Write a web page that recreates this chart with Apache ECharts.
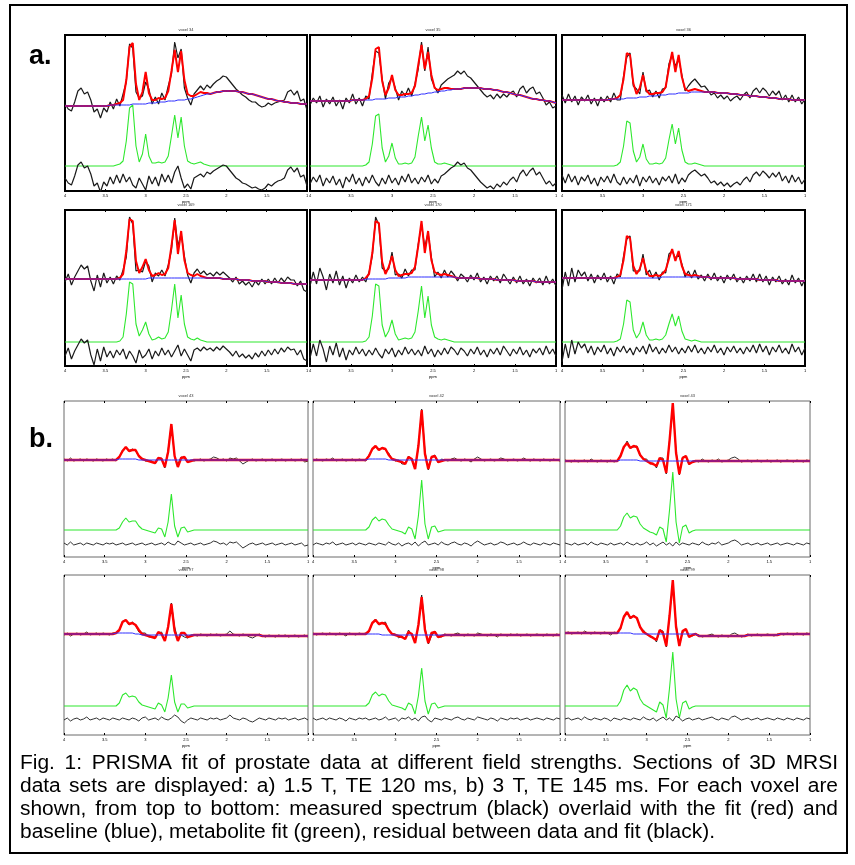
<!DOCTYPE html>
<html><head><meta charset="utf-8">
<script src="https://cdn.jsdelivr.net/npm/echarts@6/dist/echarts.min.js"></script>
<style>html,body{margin:0;padding:0;background:#fff}#c{width:855px;height:865px}</style>
</head><body><div id="c"></div><script>
// ---------- x grid (ppm) and tick labels ----------
const ppmStart = 4.0, ppmStep = 0.04, nPts = 76;
const ppm = []; for (let i = 0; i < nPts; i++) ppm.push(+(ppmStart - ppmStep * i).toFixed(2));
const ppmTickValues = [1, 1.5, 2, 2.5, 3, 3.5, 4];
const ppmTickLabels = ['1', '1.5', '2', '2.5', '3', '3.5', '4'];
const voxelTitles = ['voxel 34','voxel 35','voxel 36','voxel 169','voxel 170','voxel 171','voxel 43','voxel 42','voxel 43','voxel 97','voxel 98','voxel 99'];
const sectionLabels = ['a.', 'b.'];
const captionLines = [
 'Fig. 1: PRISMA fit of prostate data at different field strengths. Sections of 3D MRSI',
 'data sets are displayed: a) 1.5 T, TE 120 ms, b) 3 T, TE 145 ms. For each voxel are',
 'shown, from top to bottom: measured spectrum (black) overlaid with the fit (red) and',
 'baseline (blue), metabolite fit (green), residual between data and fit (black).'
];
// levels of metabolite trace and residual trace in each panel
const greenLevel = [25,25,25,24,24,24,27,27,27,29,29,29];
const residLevel = [11,11,11,13,14,16,13,13,13,16,16,16];

// ---------- section a (1.5 T) ----------
const base_a1 = [85,85,85,85,85,85,85,85,85,85,85, 85,85,85,86,86,86,86,86,86,86, 87,87,87,87,87,88,88,88,89,89, 89,90,90,90,91,91,91,92,92,93, 94,95,96,97,97,98,99,99,100,100, 100,100,100,99,99,98,97,97,96,95, 94,93,92,92,91,90,90,89,89,88, 88,88,87,87,87];
const met_a1 = [0,0,0,0,0,0,0,0,0,0,0,0,0,0,0,0, 1,2,5,25,58,61,20,4,12,32, 10,3,3,4,3,4,10,30,51,28, 49,20,5,3,2,3,4,2,1, 0,0,0,0,0,0,0,0,0,0,0,0,0,0,0,0,0,0,0,0,0,0,0,0,0,0,0,0,0,0,0];
const res_a1 = [2,-3,-5,4,15,18,12,14,6,-6, -3,-12,-2,-6,3,-4,5,-3,6,-2, 3,-5,-8,2,-4,-10,4,-4,3,-6, 6,-2,5,-3,8,14,2,-8,-4,-9, 2,4,6,3,8,6,9,11,13,15, 14,10,6,2,0,-3,-4,-6,-8,-7, -9,-10,-8,-4,-6,-3,-1,0,2,10, 13,8,12,3,5,-6];

const base_a2 = [90,90,90,90,90,90,90,90,90,90,90, 90,90,91,91,91,91,91,91,91,92, 92,92,92,93,93,93,94,94,94,95, 95,96,96,97,97,98,98,99,99,100, 100,101,101,102,102,102,103,103,103,103, 103,103,102,102,102,101,101,100,99,99, 98,97,96,96,95,94,93,92,92,91, 91,90,90,89,88];
const met_a2 = [0,0,0,0,0,0,0,0,0,0,0,0,0,0,0,0,0, 1,4,22,50,52,18,4,10,23,8, 2,2,3,2,3,9,30,49,25,41, 18,4,2,2,3,2,1, 0,0,0,0,0,0,0,0,0,0,0,0,0,0,0,0,0,0,0,0,0,0,0,0,0,0,0,0,0,0,0,0];
const res_a2 = [-4,3,-2,5,-6,2,-3,4,-5,1, -8,3,-2,6,-4,2,-6,3,-3,5, -2,-6,2,-4,5,-3,2,-5,4,-2, 6,-3,2,-4,3,-2,5,-4,1,-3, 4,6,9,12,14,18,15,17,12,10, 6,2,-2,-5,-8,-6,-9,-4,-7,-2, -5,0,3,-2,6,10,4,9,12,5, 8,2,-4,-1,-6,-3];

const base_a3 = [91,91,91,91,91,91,91,91,91,91,91, 91,91,91,91,92,92,92,92,92,93, 93,93,93,94,94,94,95,95,95,96, 96,96,97,97,97,98,98,98,98,99, 99,99,99,99,99,99,99,98,98,98, 98,97,97,97,96,96,96,95,95,95, 94,94,94,93,93,93,92,92,92,92, 91,91,91,91,91];
const met_a3 = [0,0,0,0,0,0,0,0,0,0,0,0,0,0,0,0,0, 1,4,20,45,43,15,4,9,22,7, 2,2,3,2,3,8,26,42,22,38, 16,4,2,2,3,2,1, 0,0,0,0,0,0,0,0,0,0,0,0,0,0,0,0,0,0,0,0,0,0,0,0,0,0,0,0,0,0,0,0];
const res_a3 = [5,-3,6,-2,4,-5,3,-1,5,-4, 2,-6,3,-2,4,-3,6,-2,-5,3, -4,2,-3,5,-6,3,-2,4,-3,2, -5,3,-1,4,-3,6,-4,2,-2,5, 8,10,7,4,6,2,-3,-1,-5,-2, -6,-3,-7,-4,-2,-5,0,3,-2,5, 8,4,9,6,2,7,3,8,-1,4, -3,5,-2,3,-4,1];

const base_a4 = [87,87,87,87,87,87,87,87,87,87,87, 87,87,87,87,87,87,87,87,87,87, 87,87,87,87,87,88,88,88,88,88, 88,88,88,88,88,88,88,88,88,88, 88,88,88,88,88,88,88,88,87,87, 87,87,87,86,86,86,86,85,85,85, 85,85,84,84,84,84,83,83,83,83, 82,82,82,82,82];
const met_a4 = [0,0,0,0,0,0,0,0,0,0,0,0,0,0,0,0,0, 1,5,28,60,58,18,6,12,20,8, 2,3,5,3,4,10,32,58,24,47, 18,5,3,2,4,2,1, 0,0,0,0,0,0,0,0,0,0,0,0,0,0,0,0,0,0,0,0,0,0,0,0,0,0,0,0,0,0,0,0];
const res_a4 = [-3,5,-6,2,8,14,10,13,-2,-12, 4,-8,6,-4,2,-5,3,-2,4,-6, 2,-3,-10,3,-5,-2,4,-6,2,-3, 5,-2,3,-4,2,8,-3,4,-2,-8, 3,5,2,6,3,5,2,6,3,7, 4,1,-3,2,-4,-1,-5,-2,-6,0, -4,2,-3,3,-2,4,-1,5,1,6, 3,4,-2,3,-6,-8];

const base_a5 = [86,86,86,86,86,86,86,86,86,86,86, 86,86,86,86,86,86,87,87,87,87, 87,87,87,88,88,88,88,88,88,89, 89,89,89,89,89,89,89,89,89,89, 89,89,89,89,88,88,88,88,88,88, 88,87,87,87,87,87,86,86,86,86, 86,86,85,85,85,85,85,85,84,84, 84,84,84,84,84];
const met_a5 = [0,0,0,0,0,0,0,0,0,0,0,0,0,0,0,0,0, 1,5,26,58,56,17,5,11,22,8, 2,3,4,3,4,10,31,56,24,46, 17,5,3,2,3,2,1, 0,0,0,0,0,0,0,0,0,0,0,0,0,0,0,0,0,0,0,0,0,0,0,0,0,0,0,0,0,0,0,0];
const res_a5 = [-6,8,-4,12,3,-10,6,-3,9,-5, 4,-8,2,-3,5,-2,3,-4,2,-3, 4,-2,-6,3,-2,4,-5,2,-3,5, -2,3,-3,2,-4,6,-2,3,-5,2, -3,4,-2,5,2,-3,4,1,-4,3, -2,5,-3,2,-5,3,-2,4,-3,6, 1,-4,3,-2,5,-3,2,-5,3,-1, 4,-3,6,-2,3,-4];

const base_a6 = [88,88,88,88,88,88,88,88,88,88, 88,88,88,88,88,88,88,88,88,88, 88,88,88,88,88,88,88,88,88,88,88, 89,89,89,89,89,89,89,89,89,89, 89,89,89,89,89,88,88,88,88,88, 88,88,88,87,87,87,87,87,87,87, 86,86,86,86,86,86,85,85,85,85, 85,85,85,85,85];
const met_a6 = [0,0,0,0,0,0,0,0,0,0,0,0,0,0,0,0,0, 1,3,18,42,40,12,4,9,20,7, 2,2,3,2,3,7,18,28,16,26, 11,3,2,1,2,1,0, 0,0,0,0,0,0,0,0,0,0,0,0,0,0,0,0,0,0,0,0,0,0,0,0,0,0,0,0,0,0,0,0];
const res_a6 = [-12,6,-8,10,-4,8,2,6,-3,4, -5,3,-2,5,-4,2,-6,3,-2,4, -3,2,-5,3,-2,4,-4,6,-2,3, -4,2,-3,5,-2,3,-4,2,-3,4, -2,5,-3,2,-4,3,-2,5,-3,2, -5,3,-2,4,-3,2,-4,3,-2,5, -3,6,-2,4,-5,3,-2,5,-3,2, -4,6,-2,3,-5,2];

// ---------- section b (3 T) ----------
const base_b1 = [97,97,97,97,97,97,97,97,97,97, 97,97,97,97,97,97,97,98,98,98, 98,98,98,97,97,97,97,97,97,97, 97,97,97,97,97,97,97,97,97,97, 97,97,97,97,97,97,97,97,97,97, 97,97,97,97,97,97,97,97,97,97, 97,97,97,97,97,97,97,97,97,97, 97,97,97,97,97,97];
const met_b1 = [0,0,0,0,0,0,0,0,0,0,0,0,0,0,0,0,0, 2,8,12,8,9,9,4,1,0,-1, -2,-3,2,1,-7,8,36,4,-7,2, 3,-2,-1,0, 0,0,0,0,0,0,0,0,0,0,0,0,0,0,0,0,0,0,0,0,0,0,0,0,0,0,0,0,0,0,0,0,0,0,0];
const res_b1 = [1,-1,2,-1,0,1,-1,1,0,-1, 1,0,-1,1,0,1,-1,0,1,-1, 0,1,-1,0,1,-1,0,1,-1,0, 1,-1,2,0,-1,3,1,-1,0,1, -1,0,1,-1,0,1,3,2,0,1, -1,2,1,2,-1,-4,-2,0,1,-1, 0,1,-1,0,1,-1,0,1,-1,0, 1,-1,0,1,-2,-1];

const base_b2 = [97,97,97,97,97,97,97,97,97,97, 97,97,97,97,97,97,97,98,98,98, 98,98,98,97,97,97,97,97,97,97, 97,97,97,97,97,97,97,97,97,97, 97,97,97,97,97,97,97,97,97,97, 97,97,97,97,97,97,97,97,97,97, 97,97,97,97,97,97,97,97,97,97, 97,97,97,97,97,97];
const met_b2 = [0,0,0,0,0,0,0,0,0,0,0,0,0,0,0,0,0, 3,10,13,9,11,10,5,1,0,-1, -2,-4,3,1,-9,14,50,6,-9,3, 4,-2,-1,0, 0,0,0,0,0,0,0,0,0,0,0,0,0,0,0,0,0,0,0,0,0,0,0,0,0,0,0,0,0,0,0,0,0,0,0];
const res_b2 = [-1,1,0,-1,1,0,2,-1,0,1, -1,0,1,-1,1,0,-1,1,0,-1, 1,0,-1,2,0,-1,1,-2,0,1, -1,2,-2,1,3,-1,0,1,-1,2, 0,-1,1,2,0,-1,1,0,-2,1, 3,1,-1,0,1,-1,0,2,1,-1, 0,1,-1,0,2,0,-1,1,0,-1, 1,0,-1,1,0,-1];

const base_b3 = [96,96,96,96,96,96,96,96,96,96, 96,96,96,96,96,96,96,97,97,97, 97,97,97,96,96,96,96,96,96,96, 96,96,96,96,96,96,96,96,96,96, 96,96,96,96,96,96,96,96,96,96, 96,96,96,96,96,96,96,96,96,96, 96,96,96,96,96,96,96,96,96,96, 96,96,96,96,96,96];
const met_b3 = [0,0,0,0,0,0,0,0,0,0,0,0,0,0,0,0,0, 4,13,17,12,14,13,6,2,0,-2, -3,-5,3,1,-12,20,58,8,-13,3, 5,-3,-1,0, 0,0,0,0,0,0,0,0,0,0,0,0,0,0,0,0,0,0,0,0,0,0,0,0,0,0,0,0,0,0,0,0,0,0,0];
const res_b3 = [1,0,-1,1,-1,0,1,-1,2,0, -1,1,0,-1,1,-1,0,1,-1,2, 0,-1,1,-1,0,2,-1,1,-2,0, 2,-1,1,-2,2,-1,1,0,-1,1, 0,-1,2,0,-1,1,0,2,-1,0, 1,3,4,2,-1,0,1,-1,0,1, -1,0,1,-1,0,1,-1,0,1,0, -1,1,0,-1,1,0];

const base_b4 = [101,101,101,101,101,101,101,101,101,101,101, 101,101,101,101,101,102,102,102,102,102, 102,101,101,100,100,100,100,100,100,100, 100,100,100,100,100,100,100,100,100,100, 100,100,100,100,100,100,100,100,100,100, 100,100,100,100,100,100,100,100,100,100, 99,99,99,99,99,99,99,99,99,99, 99,99,99,99,99];
const met_b4 = [0,0,0,0,0,0,0,0,0,0,0,0,0,0,0,0,0, 3,11,13,9,10,9,4,1,0,-1, -2,-3,3,1,-6,8,31,4,-6,2, 2,-2,-1,0, 0,0,0,0,0,0,0,0,0,0,0,0,0,0,0,0,0,0,0,0,0,0,0,0,0,0,0,0,0,0,0,0,0,0,0];
const res_b4 = [-1,1,-2,0,1,-1,0,2,-1,0, 1,-1,1,0,-1,1,0,-1,1,0, -1,1,0,-2,1,2,-1,0,1,-1, 2,0,-1,1,4,2,-2,-4,-1,1, 0,-1,1,0,-1,1,0,1,-1,0, 1,4,1,0,-1,1,0,-2,-3,-1, 1,0,-1,1,0,-1,1,0,1,-1, 0,1,-1,0,1,-1];

const base_b5 = [101,101,101,101,101,101,101,101,101,101,101, 101,101,101,101,101,101,101,101,101,101, 100,100,100,100,100,100,100,100,100,100, 100,100,100,100,100,100,100,100,100,100, 100,100,100,100,100,100,100,100,100,100, 100,100,100,100,100,100,100,100,100,100, 100,100,100,100,100,100,100,100,100,100, 100,100,100,100,100];
const met_b5 = [0,0,0,0,0,0,0,0,0,0,0,0,0,0,0,0,0, 3,11,14,10,12,11,5,1,0,-1, -2,-4,3,1,-8,10,38,5,-8,2, 3,-2,-1,0, 0,0,0,0,0,0,0,0,0,0,0,0,0,0,0,0,0,0,0,0,0,0,0,0,0,0,0,0,0,0,0,0,0,0,0];
const res_b5 = [1,-1,0,1,-1,1,0,-1,1,0, -2,1,0,-1,1,0,1,-1,0,1, -1,0,2,-1,0,1,-2,1,0,2, -1,1,-2,2,3,-1,-3,1,0,-1, 1,0,-1,1,2,0,-1,1,0,-1, 2,1,0,-1,1,0,-2,1,0,-1, 1,0,1,-1,0,1,-1,0,1,0, -1,1,0,-1,1,0];

const base_b6 = [102,102,102,102,102,102,102,102,102,102,102, 102,102,102,102,102,102,102,102,102,102, 101,101,101,101,101,101,101,101,101,101, 101,101,101,101,101,101,101,101,101,101, 99,99,99,99,99,99,99,99,99,99, 99,99,99,99,99,100,100,100,100,100, 100,100,100,100,100,101,101,101,101,101, 101,101,101,101,101];
const met_b6 = [0,0,0,0,0,0,0,0,0,0,0,0,0,0,0,0,0, 5,16,21,15,18,16,7,2,0,-2, -4,-6,4,1,-12,18,54,7,-12,3, 5,-3,-1,0, 0,0,0,0,0,0,0,0,0,0,0,0,0,0,0,0,0,0,0,0,0,0,0,0,0,0,0,0,0,0,0,0,0,0,0];
const res_b6 = [0,1,-1,0,1,-1,2,0,-1,1, 0,-1,1,0,-2,1,0,-1,1,0, -1,1,0,-1,2,0,-1,1,-2,0, 2,-1,1,-2,3,1,-2,0,1,-1, 0,1,-1,0,1,2,0,-1,1,0, -1,2,3,1,-1,0,1,-1,0,1, -1,0,1,0,-1,1,0,-1,1,0, -1,1,0,-1,1,0];

const panelSets = [
  [base_a1, met_a1, res_a1], [base_a2, met_a2, res_a2], [base_a3, met_a3, res_a3],
  [base_a4, met_a4, res_a4], [base_a5, met_a5, res_a5], [base_a6, met_a6, res_a6],
  [base_b1, met_b1, res_b1], [base_b2, met_b2, res_b2], [base_b3, met_b3, res_b3],
  [base_b4, met_b4, res_b4], [base_b5, met_b5, res_b5], [base_b6, met_b6, res_b6]
];

// ---------- layout (pixels) ----------
const panelBoxes = [
  [65,35,242,156],[310,35,246,156],[562,35,243,156],
  [65,210,242,156],[310,210,246,156],[562,210,243,156],
  [64,401,244,156],[313,401,247,156],[565,401,245,156],
  [64,575,244,160],[313,575,247,160],[565,575,245,160]
];

const chart = echarts.init(document.getElementById('c'), null, {renderer:'canvas'});
const grids = [], xAxes = [], yAxes = [], series = [], graphic = [];
panelBoxes.forEach((b, k) => {
  const secA = k < 6;
  grids.push({left:b[0], top:b[1], width:b[2], height:b[3], show:true, borderColor: secA ? '#000' : '#6a6a6a', borderWidth: secA ? 2 : 1, backgroundColor:'rgba(0,0,0,0)', containLabel:false});
  xAxes.push({gridIndex:k, type:'value', min:1, max:4, interval:0.5, inverse:true, position:'bottom',
    axisLine:{show:false}, splitLine:{show:false},
    axisTick:{show:true, inside:true, length:2, lineStyle:{color:'#000', width:1}},
    axisLabel:{show:true, fontSize:4, margin:3, color:'#000', fontFamily:'Liberation Sans',
      formatter: v => { const j = ppmTickValues.indexOf(+(+v).toFixed(2)); return j >= 0 ? ppmTickLabels[j] : ''; }},
    name:'ppm', nameLocation:'middle', nameGap:9, nameTextStyle:{fontSize:4, color:'#000', fontFamily:'Liberation Sans'}});
  yAxes.push({gridIndex:k, type:'value', min:0, max:b[3], show:false});
});
panelBoxes.forEach((b, k) => {
  xAxes.push({gridIndex:k, type:'value', min:1, max:4, interval:0.5, inverse:true, position:'top',
    axisLine:{show:false}, splitLine:{show:false}, axisLabel:{show:false},
    axisTick:{show:true, inside:true, length:2, lineStyle:{color:'#000', width:1}}});
});

function mk(k, vals, color, width, z) {
  return {type:'line', xAxisIndex:k, yAxisIndex:k, data: ppm.map((x, i) => [x, vals[i]]),
    symbol:'none', silent:true, clip:true, animation:false, z: z,
    lineStyle:{color: color, width: width}};
}
panelSets.forEach((set, k) => {
  const base = set[0], met = set[1], res = set[2];
  const secA = k < 6;
  const fit = base.map((v, i) => v + met[i]);
  const dat = fit.map((v, i) => v + res[i]);
  const grn = met.map(v => greenLevel[k] + v);
  const rsd = res.map(v => residLevel[k] + v);
  series.push(mk(k, dat, '#1a1a1a', secA ? 1.2 : 0.9, 2));
  series.push(mk(k, fit, '#ff0000', secA ? 2 : 2.4, 3));
  series.push(mk(k, base, '#2f2fff', 1, 4));
  series.push(mk(k, grn, '#2ee82e', 1.1, 2));
  series.push(mk(k, rsd, '#1a1a1a', secA ? 1.2 : 0.9, 2));
  graphic.push({type:'text', x: panelBoxes[k][0] + panelBoxes[k][2] / 2, y: panelBoxes[k][1] - 5, silent:true,
    style:{text: voxelTitles[k], fontSize:4, fontFamily:'Liberation Sans', fill:'#333', align:'center', verticalAlign:'middle'}});
});

// outer frame
graphic.push({type:'rect', silent:true, shape:{x:10, y:5, width:837, height:848}, style:{fill:'none', stroke:'#000', lineWidth:2}});
// section labels
graphic.push({type:'text', x:29, y:57, silent:true, style:{text: sectionLabels[0], fontSize:27, fontWeight:'bold', fontFamily:'Liberation Sans', fill:'#000', align:'left', verticalAlign:'middle'}});
graphic.push({type:'text', x:29, y:440, silent:true, style:{text: sectionLabels[1], fontSize:27, fontWeight:'bold', fontFamily:'Liberation Sans', fill:'#000', align:'left', verticalAlign:'middle'}});

// caption: justified lines built word by word (condensed sans)
const capFont = 20, capFamily = 'Liberation Sans';
const capLeft = 20, capRight = 838, lastRight = 715;
const capY = [763, 786, 809, 832];
const mctx = document.createElement('canvas').getContext('2d');
mctx.font = capFont + 'px "' + capFamily + '"';
const sx = (lastRight - capLeft) / mctx.measureText(captionLines[3]).width;
captionLines.forEach((line, li) => {
  const words = line.split(' ');
  const widths = words.map(w => mctx.measureText(w).width * sx);
  const total = widths.reduce((a, c) => a + c, 0);
  let gap;
  if (li < 3) gap = (capRight - capLeft - total) / (words.length - 1);
  else gap = mctx.measureText(' ').width * sx;
  let x = capLeft;
  words.forEach((w, j) => {
    graphic.push({type:'text', x: x, y: capY[li], scaleX: sx, scaleY: 1, silent:true,
      style:{text: w, fontSize: capFont, fontFamily: capFamily, fill:'#000', align:'left', verticalAlign:'middle'}});
    x += widths[j] + gap;
  });
});

chart.setOption({animation:false, backgroundColor:'#fff', grid: grids, xAxis: xAxes, yAxis: yAxes, series: series, graphic: graphic});
</script></body></html>
